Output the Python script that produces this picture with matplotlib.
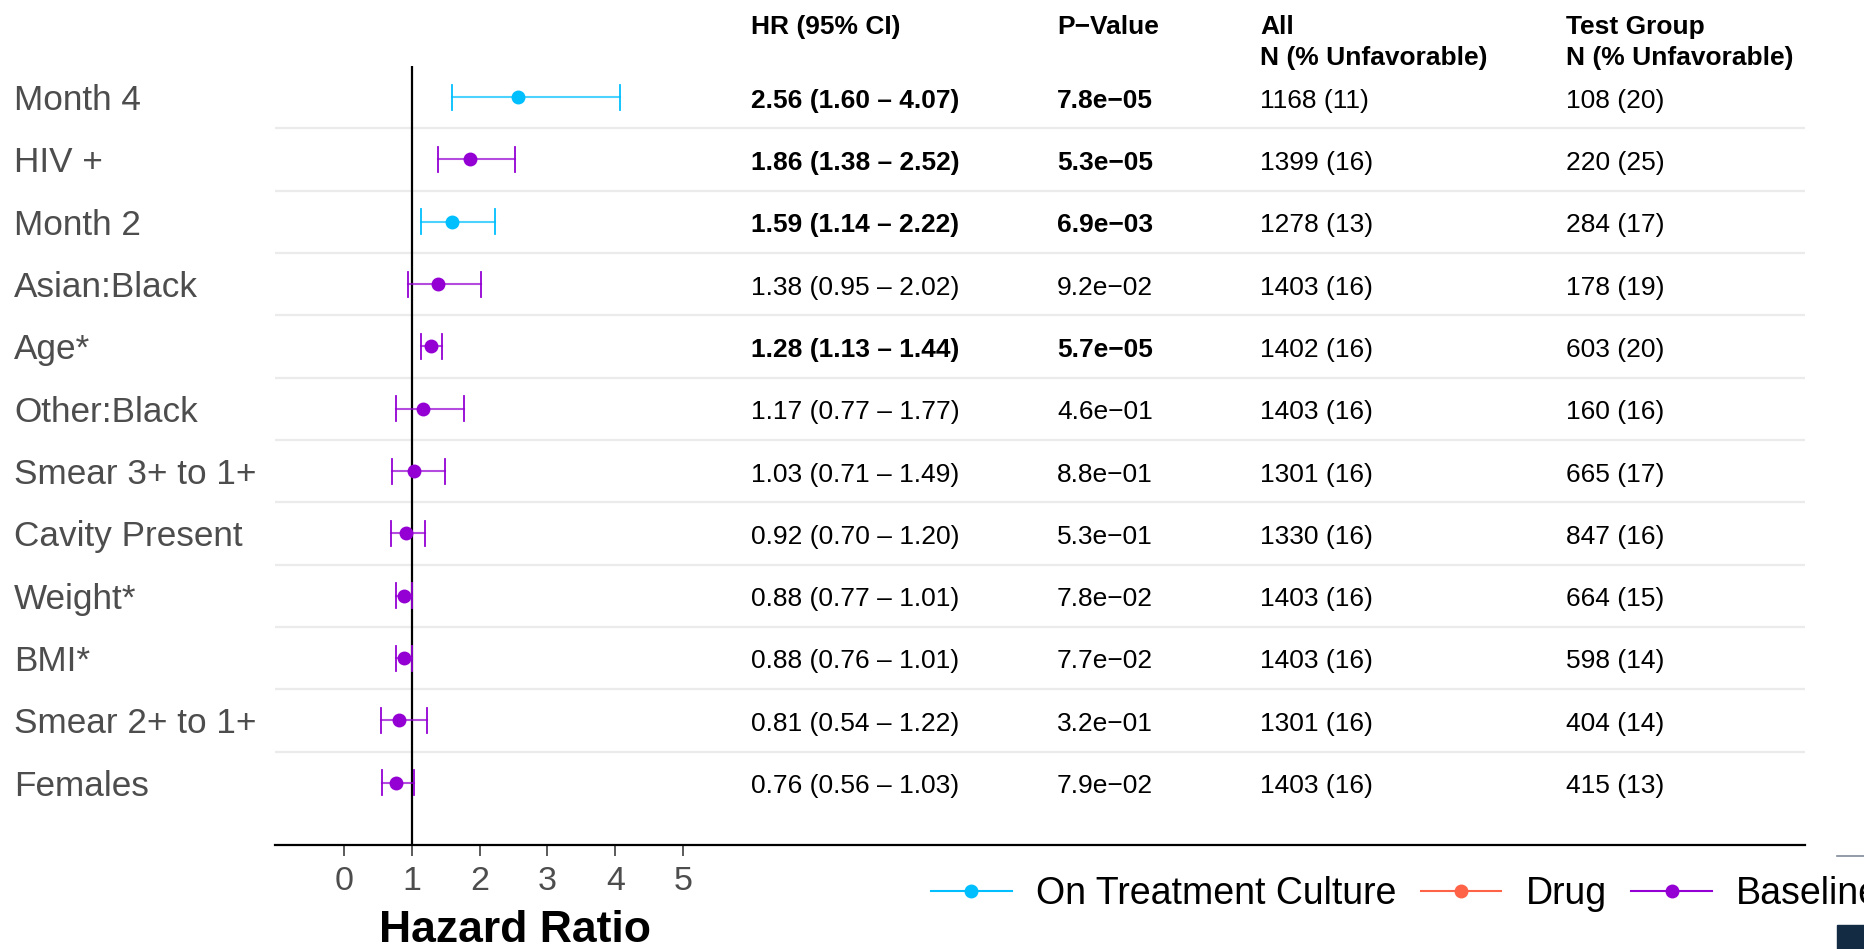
import matplotlib
matplotlib.use("Agg")
import matplotlib.pyplot as plt
from matplotlib.lines import Line2D
from matplotlib.patches import Rectangle
from matplotlib.transforms import blended_transform_factory

plt.rcParams['font.family'] = ['Liberation Sans', 'DejaVu Sans']

# rows, top to bottom
labels = ["Month 4", "HIV +", "Month 2", "Asian:Black", "Age*", "Other:Black",
          "Smear 3+ to 1+", "Cavity Present", "Weight*", "BMI*",
          "Smear 2+ to 1+", "Females"]
groups = ["On Treatment Culture", "Baseline", "On Treatment Culture", "Baseline",
          "Baseline", "Baseline", "Baseline", "Baseline", "Baseline", "Baseline",
          "Baseline", "Baseline"]
hr = [2.56, 1.86, 1.59, 1.38, 1.28, 1.17, 1.03, 0.92, 0.88, 0.88, 0.81, 0.76]
lo = [1.60, 1.38, 1.14, 0.95, 1.13, 0.77, 0.71, 0.70, 0.77, 0.76, 0.54, 0.56]
hi = [4.07, 2.52, 2.22, 2.02, 1.44, 1.77, 1.49, 1.20, 1.01, 1.01, 1.22, 1.03]
pvals = ["7.8e\u221205", "5.3e\u221205", "6.9e\u221203", "9.2e\u221202", "5.7e\u221205",
         "4.6e\u221201", "8.8e\u221201", "5.3e\u221201", "7.8e\u221202", "7.7e\u221202",
         "3.2e\u221201", "7.9e\u221202"]
signif = [True, True, True, False, True, False, False, False, False, False, False, False]
n_all = ["1168 (11)", "1399 (16)", "1278 (13)", "1403 (16)", "1402 (16)", "1403 (16)",
         "1301 (16)", "1330 (16)", "1403 (16)", "1403 (16)", "1301 (16)", "1403 (16)"]
n_test = ["108 (20)", "220 (25)", "284 (17)", "178 (19)", "603 (20)", "160 (16)",
          "665 (17)", "847 (16)", "664 (15)", "598 (14)", "404 (14)", "415 (13)"]

legend_groups = ["On Treatment Culture", "Drug", "Baseline"]
colors = {"On Treatment Culture": "#00BFFF", "Drug": "#FF6347", "Baseline": "#9400D3"}

W, H = 1864, 949
fig = plt.figure(figsize=(W / 100, H / 100), dpi=100)
ax_l, ax_r, ax_t, ax_b = 275, 1805, 66, 845
ax = fig.add_axes([ax_l / W, 1 - ax_b / H, (ax_r - ax_l) / W, (ax_b - ax_t) / H])

px = 67.8  # pixels per HR unit
x0 = 344
ax.set_xlim((ax_l - x0) / px, (ax_r - x0) / px)
n = len(labels)
ax.set_ylim(0, n + 0.5)
ys = [n - i for i in range(n)]
dy = 0.055  # text sits a touch below the row centre

# row separators
for i in range(n - 1):
    ax.axhline(ys[i] - 0.5, color="#ebebeb", lw=1.6, zorder=0)

ax.axvline(1, color="black", lw=1.6, zorder=1)

for y, h, l, u, g in zip(ys, hr, lo, hi, groups):
    c = colors[g]
    ax.plot([l, u], [y, y], color=c, lw=1.5, alpha=0.7, zorder=2)
    ax.plot([l, l], [y - 0.2, y + 0.2], color=c, lw=1.3, zorder=2)
    ax.plot([u, u], [y - 0.2, y + 0.2], color=c, lw=1.3, zorder=2)
    ax.plot(h, y, "o", color=c, ms=9, zorder=3)

# table columns (x in HR units)
fs = 19
col_x = [(751 - x0) / px, (1057 - x0) / px, (1260 - x0) / px, (1566 - x0) / px]
for y, h, l, u, p, s, a, t in zip(ys, hr, lo, hi, pvals, signif, n_all, n_test):
    fw = "bold" if s else "normal"
    ty = y - dy
    ax.text(col_x[0], ty, f"{h:.2f} ({l:.2f} \u2013 {u:.2f})", fontsize=fs,
            fontweight=fw, va="center", ha="left")
    ax.text(col_x[1], ty, p, fontsize=fs, fontweight=fw, va="center", ha="left")
    ax.text(col_x[2], ty, a, fontsize=fs, va="center", ha="left")
    ax.text(col_x[3], ty, t, fontsize=fs, va="center", ha="left")

hy1 = 1 - 27 / H
hy2 = 1 - 57.5 / H
hkw = dict(fontsize=fs, fontweight="bold", va="center", ha="left")
fig.text(751 / W, hy1, "HR (95% CI)", **hkw)
fig.text(1057 / W, hy1, "P\u2212Value", **hkw)
fig.text(1260 / W, hy1, "All", **hkw)
fig.text(1260 / W, hy2, "N (% Unfavorable)", **hkw)
fig.text(1566 / W, hy1, "Test Group", **hkw)
fig.text(1566 / W, hy2, "N (% Unfavorable)", **hkw)

# row labels
lab_tr = blended_transform_factory(fig.transFigure, ax.transData)
for y, lab in zip(ys, labels):
    ax.text(14 / W, y - dy, lab, transform=lab_tr,
            fontsize=25.3, color="#4d4d4d", va="center", ha="left")

for side in ["top", "right", "left"]:
    ax.spines[side].set_visible(False)
ax.spines["bottom"].set_color("black")
ax.spines["bottom"].set_linewidth(1.6)
ax.set_yticks([])
ax.set_xticks([0, 1, 2, 3, 4, 5])
ax.tick_params(axis="x", colors="#4d4d4d", labelsize=24.5, length=8, width=1.3, pad=7)
fig.text(515 / W, 1 - 931 / H, "Hazard Ratio", fontsize=32,
         fontweight="bold", ha="center", va="center")

# legend (runs off the right edge)
handles = [Line2D([], [], color=colors[g], marker="o", ms=9, lw=1.5) for g in legend_groups]
for hd in handles:
    hd.set_markerfacecolor(hd.get_color())
fig.legend(handles, legend_groups, loc="center left",
           bbox_to_anchor=(931 / W, 1 - 894 / H), ncol=3, frameon=False,
           borderpad=0, borderaxespad=0,
           fontsize=27, handlelength=2.15, handletextpad=0.65, columnspacing=0.65)

# clipped colourbar pieces at the right edge
fig.add_artist(Line2D([1837 / W, 1], [1 - 856 / H, 1 - 856 / H], color="#7f8a9a", lw=1.2))
fig.add_artist(Rectangle((1837 / W, 0), 27 / W, 24 / H, transform=fig.transFigure,
                         color="#132B43"))

fig.savefig("out.png", dpi=100)
